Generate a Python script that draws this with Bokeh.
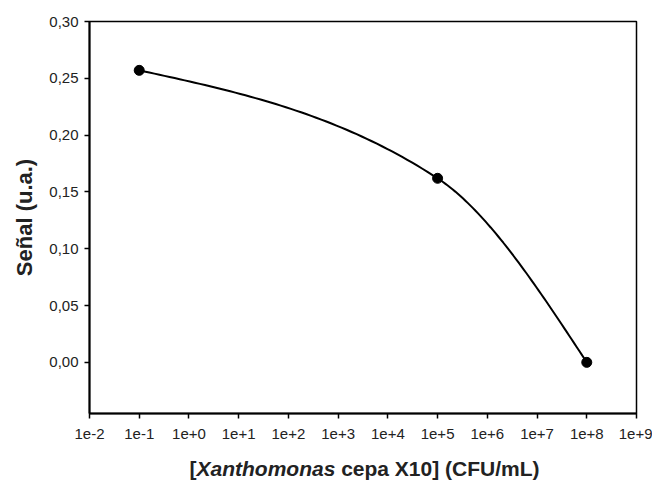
import numpy as np
from bokeh.plotting import figure
from bokeh.layouts import column
from bokeh.models import (Range1d, FixedTicker, CustomJSTickFormatter,
                          ColumnDataSource)
from bokeh.core.properties import value
from bokeh.embed import file_html
from bokeh.resources import INLINE

# Measured signal versus bacterial concentration
concentration = [1e-1, 1e5, 1e8]          # CFU/mL
signal = [0.257, 0.162, 0.0]              # u.a.

x_ticks = [10.0 ** k for k in range(-2, 10)]
y_ticks = [0.0, 0.05, 0.10, 0.15, 0.20, 0.25, 0.30]

FONT = "Liberation Sans"
W = 652
LEFT, RIGHT = 89, 16


def smooth_curve(xs, ys, n=60):
    """Cubic Hermite curve through the points, in log10(x) space
    (Catmull-Rom tangents inside, natural end conditions)."""
    lx = np.log10(np.asarray(xs, float))
    yv = np.asarray(ys, float)
    sec = np.diff(yv) / np.diff(lx)
    m = np.zeros_like(yv)
    for i in range(1, len(yv) - 1):
        m[i] = (yv[i + 1] - yv[i - 1]) / (lx[i + 1] - lx[i - 1])
    m[0] = (3 * sec[0] - m[1]) / 2
    m[-1] = (3 * sec[-1] - m[-2]) / 2
    out_x, out_y = [], []
    for i in range(len(yv) - 1):
        h = lx[i + 1] - lx[i]
        t = np.linspace(0, 1, n)
        h00 = 2 * t**3 - 3 * t**2 + 1
        h10 = t**3 - 2 * t**2 + t
        h01 = -2 * t**3 + 3 * t**2
        h11 = t**3 - t**2
        seg = h00 * yv[i] + h10 * h * m[i] + h01 * yv[i + 1] + h11 * h * m[i + 1]
        out_x.extend(10 ** (lx[i] + t * h))
        out_y.extend(seg)
    return out_x, out_y


p = figure(width=W, height=442, x_axis_type="log",
           x_range=Range1d(1e-2, 1e9), y_range=Range1d(-0.045, 0.30),
           output_backend="svg", toolbar_location=None,
           min_border_left=LEFT, min_border_right=RIGHT,
           min_border_top=21, min_border_bottom=29)

p.background_fill_color = "white"
p.border_fill_color = "white"
p.outline_line_color = "black"
p.outline_line_width = 1.5
p.grid.visible = False

cx, cy = smooth_curve(concentration, signal)
p.line(cx, cy, line_color="black", line_width=2)
p.scatter(x="x", y="y", source=ColumnDataSource(dict(x=concentration, y=signal)),
          size=10, fill_color="black", line_color="black")

# X axis
p.xaxis.ticker = FixedTicker(ticks=x_ticks, minor_ticks=[])
p.xaxis.formatter = CustomJSTickFormatter(code="""
    const e = Math.round(Math.log10(tick));
    return "1e" + (e >= 0 ? "+" : "") + e;
""")
# Y axis
p.yaxis.ticker = FixedTicker(ticks=y_ticks, minor_ticks=[])
p.yaxis.formatter = CustomJSTickFormatter(code="""
    return tick.toFixed(2).replace('.', ',');
""")

for ax in (p.xaxis[0], p.yaxis[0]):
    ax.axis_line_width = 2
    ax.axis_line_color = "black"
    ax.major_tick_line_color = "black"
    ax.major_tick_line_width = 1.5
    ax.major_tick_in = 0
    ax.major_tick_out = 5
    ax.minor_tick_line_color = None
    ax.major_label_text_font = FONT
    ax.major_label_text_font_size = "15px"
    ax.major_label_text_color = "#222222"
    ax.major_label_standoff = 6
p.xaxis.major_label_standoff = 10

p.yaxis.axis_label = "Señal (u.a.)"
p.yaxis.axis_label_text_font = FONT
p.yaxis.axis_label_text_font_size = "22px"
p.yaxis.axis_label_text_font_style = "bold"
p.yaxis.axis_label_text_color = "#222222"
p.yaxis.axis_label_standoff = 9

# Strip under the chart holding the x title, with the genus in italics.
# Its x range is set so that one unit equals one pixel of the page.
t = figure(width=W, height=44, x_range=Range1d(LEFT, W - RIGHT),
           y_range=Range1d(0, 44),
           output_backend="svg", toolbar_location=None,
           min_border_left=LEFT, min_border_right=RIGHT,
           min_border_top=0, min_border_bottom=0)
t.axis.visible = False
t.grid.visible = False
t.outline_line_color = None
t.background_fill_color = "white"
t.border_fill_color = "white"

# (piece text, style, advance width in em, leading gap in em)
title_parts = [("[", "bold", 0.333, 0.0),
               ("Xanthomonas", "bold italic", 6.612, 0.0),
               ("cepa X10] (CFU/mL)", "bold", 9.446, 0.278)]
size = 21
total = sum((w + g) * size for _, _, w, g in title_parts)
x0 = 364 - total / 2
for txt, style, w, g in title_parts:
    x0 += g * size
    t.text(x=[x0], y=[18], text=[txt], text_font=value(FONT),
           text_font_size=f"{size}px", text_font_style=style,
           text_color="#222222", text_baseline="middle", text_align="left")
    x0 += w * size

open("out.html", "w").write(file_html(column(p, t, spacing=0), INLINE))
